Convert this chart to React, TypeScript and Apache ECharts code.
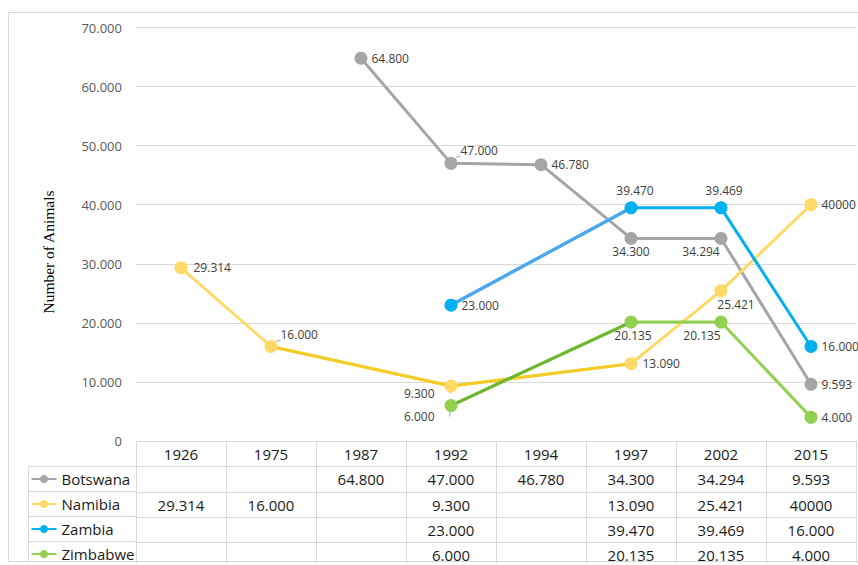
import React, { useEffect, useRef } from "react";
import * as echarts from "echarts";

// ---------- data ----------
const years = ["1926", "1975", "1987", "1992", "1994", "1997", "2002", "2015"];
const botswana = [null, null, 64800, 47000, 46780, 34300, 34294, 9593];
const namibia = [29314, 16000, null, 9300, null, 13090, 25421, 40000];
const zambia = [null, null, null, 23000, null, 39470, 39469, 16000];
const zimbabwe = [null, null, null, 6000, null, 20135, 20135, 4000];
// cells that the source shows without a thousands separator
const unseparated = [{ series: "Namibia", index: 7 }];
const yAxisTitle = "Number of Animals";

const yMin = 0;
const yMax = 70000;
const yStep = 10000;

// ---------- styling ----------
const FONT = "'Open Sans', 'Noto Sans', sans-serif";
const seriesDefs = [
  { name: "Botswana", data: botswana, color: "#a5a5a5" },
  { name: "Namibia", data: namibia, color: "#ffd966" },
  { name: "Zambia", data: zambia, color: "#00b0f0" },
  { name: "Zimbabwe", data: zimbabwe, color: "#92d050" },
];
const segmentTints = [
  { name: "Namibia", from: 1, to: 5, color: "#f4cc28" },
  { name: "Zambia", from: 3, to: 5, color: "#4ea6ef" },
  { name: "Zimbabwe", from: 3, to: 5, color: "#6db62e" },
];

type LP = { position: string; distance?: number; offset?: number[]; leader?: boolean };
const R: LP = { position: "right", distance: 4 };
const labelPlacement: Record<string, (LP | null)[]> = {
  Botswana: [null, null, R, { position: "right", distance: 3, offset: [0, -13], leader: true }, R,
    { position: "bottom", distance: 1 }, { position: "bottom", distance: 1, offset: [-20, 0] }, R],
  Namibia: [{ position: "right", distance: 6 }, { position: "right", distance: 3, offset: [0, -12], leader: true }, null,
    { position: "left", distance: 10, offset: [0, 7], leader: true }, null, { position: "right", distance: 5 },
    { position: "bottom", distance: 1, offset: [15, 0] }, R],
  Zambia: [null, null, null, R, null, { position: "top", distance: 5, offset: [4, 0], leader: true },
    { position: "top", distance: 5, offset: [3, 0], leader: true }, R],
  Zimbabwe: [null, null, null, { position: "left", distance: 10, offset: [0, 11], leader: true }, null,
    { position: "bottom", distance: 1, offset: [2, 0] }, { position: "bottom", distance: 1, offset: [-19, 0] }, R],
};

function fmt(v: number | null, plain = false): string {
  if (v === null || v === undefined) return "";
  if (plain) return String(v);
  const s = String(Math.round(v));
  return s.replace(/\B(?=(\d{3})+(?!\d))/g, ".");
}
const isPlain = (name: string, i: number) => unseparated.some((u) => u.series === name && u.index === i);

export default function App() {
  const ref = useRef<HTMLDivElement>(null);
  useEffect(() => {
    document.body.style.margin = "0";
    if (!ref.current) return;
    const chart = echarts.init(ref.current, undefined, { renderer: "svg" });

    const series: any[] = [];
    seriesDefs.forEach((s) => {
      series.push({
        name: s.name,
        type: "line",
        xAxisIndex: 0,
        yAxisIndex: 0,
        connectNulls: true,
        symbol: "circle",
        symbolSize: 13,
        color: s.color,
        itemStyle: { color: s.color },
        lineStyle: { color: s.color, width: 3 },
        data: s.data.map((v, i) => {
          if (v === null) return null;
          const p = labelPlacement[s.name][i] || R;
          return {
            value: v,
            label: {
              show: true,
              position: p.position,
              distance: p.distance ?? 4,
              offset: p.offset ?? [0, 0],
              formatter: () => fmt(v, isPlain(s.name, i)),
            },
            labelLine: p.leader
              ? { show: true, length2: 3, lineStyle: { color: "#a6a6a6", width: 1 } }
              : { show: false },
          };
        }),
        label: { fontFamily: FONT, fontSize: 12, color: "#404040" },
        emphasis: { disabled: true },
      });
      const tint = segmentTints.find((t) => t.name === s.name);
      if (tint) {
        series.push({
          name: s.name + " segment",
          type: "line",
          xAxisIndex: 0,
          yAxisIndex: 0,
          connectNulls: true,
          symbol: "none",
          silent: true,
          lineStyle: { color: tint.color, width: 3 },
          data: s.data.map((v, i) => (i >= tint.from && i <= tint.to ? v : null)),
        });
      }
    });

    const rowOffsets = [25, 51, 76, 101];
    const rowTicks = [26, 25, 25, 21];
    const axisLineStyle = { color: "#d9d9d9", width: 1 };
    const cellLabel = { fontFamily: FONT, fontSize: 15, color: "#1a1a1a", verticalAlign: "middle", margin: 13, interval: 0 };

    const xAxes: any[] = [
      {
        type: "category",
        data: years,
        gridIndex: 0,
        position: "bottom",
        boundaryGap: true,
        axisLine: { show: true, lineStyle: axisLineStyle },
        axisTick: { show: true, interval: 0, length: 25, lineStyle: axisLineStyle },
        axisLabel: { ...cellLabel },
        splitLine: { show: false },
      },
      ...seriesDefs.map((s, r) => ({
        type: "category",
        data: years,
        gridIndex: 0,
        position: "bottom",
        offset: rowOffsets[r],
        boundaryGap: true,
        axisLine: { show: true, lineStyle: axisLineStyle },
        axisTick: { show: true, interval: 0, length: rowTicks[r], lineStyle: axisLineStyle },
        axisLabel: {
          ...cellLabel,
          formatter: (_v: string, i: number) => fmt(s.data[i] as number | null, isPlain(s.name, i)),
        },
        splitLine: { show: false },
      })),
    ];

    const lineG = (x1: number, y1: number, x2: number, y2: number) => ({
      type: "line",
      silent: true,
      shape: { x1, y1, x2, y2 },
      style: { stroke: "#d9d9d9", lineWidth: 1 },
    });

    chart.setOption({
      animation: false,
      grid: { left: 136, right: 2, top: 27.5, bottom: 124, containLabel: false },
      legend: {
        type: "plain",
        orient: "vertical",
        left: 30.5,
        top: 466.5,
        height: 140,
        padding: 0,
        itemGap: 0,
        itemWidth: 25,
        itemHeight: 10,
        selectedMode: false,
        data: seriesDefs.map((s) => s.name),
        textStyle: { fontFamily: FONT, fontSize: 15, lineHeight: 25, color: "#1a1a1a" },
      },
      xAxis: xAxes,
      yAxis: {
        type: "value",
        min: yMin,
        max: yMax,
        interval: yStep,
        axisLine: { show: false },
        axisTick: { show: false },
        axisLabel: { fontFamily: FONT, fontSize: 13, color: "#595959", margin: 14, formatter: (v: number) => fmt(v) },
        splitLine: { show: true, lineStyle: { color: "#d9d9d9", width: 1 } },
      },
      graphic: [
        {
          type: "rect",
          silent: true,
          z: -10,
          shape: { x: 8.5, y: 12.5, width: 900, height: 549 },
          style: { fill: "none", stroke: "#d9d9d9", lineWidth: 1 },
        },
        {
          type: "text",
          silent: true,
          x: 48,
          y: 252,
          rotation: Math.PI / 2,
          style: {
            text: yAxisTitle,
            align: "center",
            verticalAlign: "middle",
            fontFamily: "'Liberation Serif', 'Times New Roman', serif",
            fontSize: 15.5,
            fill: "#000",
          },
        },
        lineG(28.5, 466.5, 28.5, 562),
        lineG(28.5, 466.5, 136, 466.5),
        lineG(28.5, 491.5, 136, 491.5),
        lineG(28.5, 516.5, 136, 516.5),
        lineG(28.5, 541.5, 136, 541.5),
      ],
      series,
    });
    return () => chart.dispose();
  }, []);
  return <div ref={ref} style={{ width: 858, height: 565 }} />;
}
